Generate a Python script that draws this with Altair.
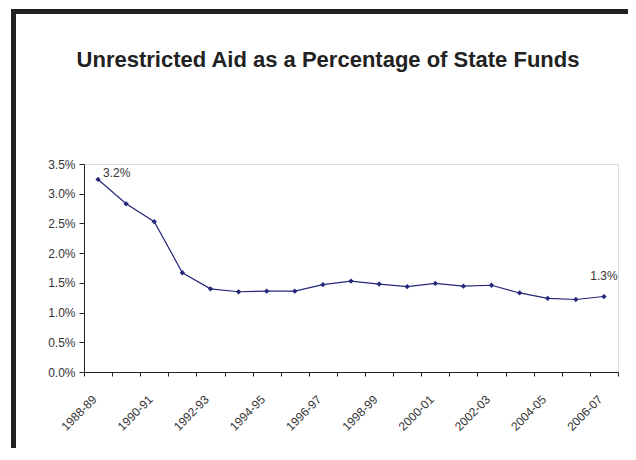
import altair as alt
import pandas as pd

years = ["1988-89", "1989-90", "1990-91", "1991-92", "1992-93", "1993-94",
         "1994-95", "1995-96", "1996-97", "1997-98", "1998-99", "1999-00",
         "2000-01", "2001-02", "2002-03", "2003-04", "2004-05", "2005-06",
         "2006-07"]
share = [0.0324, 0.0283, 0.0253, 0.0167, 0.0140, 0.0135, 0.0136, 0.0136,
         0.0147, 0.0153, 0.0148, 0.01435, 0.0149, 0.01445, 0.0146, 0.0133,
         0.0124, 0.0122, 0.0127]
point_labels = ["3.2%"] + [""] * 17 + ["1.3%"]

df = pd.DataFrame({"year": years, "share": share, "label": point_labels})

NAVY = "#25277a"
FONT = "Liberation Sans"

x_enc = alt.X(
    "year:N", sort=years, bandPosition=0.5,
    scale=alt.Scale(type="band", paddingInner=0, paddingOuter=0),
    axis=alt.Axis(
        title=None, labelAngle=-45, labelAlign="right", labelBaseline="middle",
        tickBand="extent", tickSize=4, labelPadding=21, labelOffset=-4,
        labelFontSize=12, labelFont=FONT, labelColor="#333333",
        domainColor="#222222", tickColor="#222222", grid=False,
        labelExpr="toNumber(substring(datum.value, 0, 4)) % 2 == 0 ? datum.label : ''",
    ),
)
y_enc = alt.Y(
    "share:Q",
    scale=alt.Scale(domain=[0, 0.035], nice=False),
    axis=alt.Axis(
        title=None, format=".1%", values=[0, 0.005, 0.01, 0.015, 0.02, 0.025, 0.03, 0.035],
        tickSize=5, labelPadding=4, labelFontSize=12, labelFont=FONT,
        labelColor="#333333", domainColor="#222222", tickColor="#222222", grid=False,
    ),
)

base = alt.Chart(df).encode(x=x_enc, y=y_enc)

line = base.mark_line(color=NAVY, strokeWidth=1.2)
pts = base.mark_point(shape="diamond", filled=True, size=28, color=NAVY, opacity=1)

first_lbl = base.transform_filter("datum.year == '1988-89'").mark_text(
    align="left", baseline="alphabetic", dx=5, dy=-2, fontSize=12, font=FONT, color="#333333"
).encode(text="label:N")
last_lbl = base.transform_filter("datum.year == '2006-07'").mark_text(
    align="center", baseline="alphabetic", dx=0, dy=-17, fontSize=12, font=FONT, color="#333333"
).encode(text="label:N")

frame_data = alt.Data(values=[{"k": 1}])
left_bar = alt.Chart(frame_data).mark_rule(color="#222222", strokeWidth=5).encode(
    x=alt.value(-70.5), y=alt.value(-155), y2=alt.value(290)
)
top_bar = alt.Chart(frame_data).mark_rule(color="#222222", strokeWidth=5).encode(
    x=alt.value(-73), x2=alt.value(560), y=alt.value(-152.5)
)

chart = alt.layer(left_bar, top_bar, line, pts, first_lbl, last_lbl).properties(
    width=534, height=208,
    autosize=alt.AutoSizeParams(type="none"),
    padding={"left": 76, "top": 156, "right": 10, "bottom": 76},
    title=alt.TitleParams(
        "Unrestricted Aid as a Percentage of State Funds",
        font=FONT, fontSize=22, fontWeight="bold", color="#222222",
        anchor="middle", baseline="alphabetic", offset=0, dy=82, dx=-23,
    ),
).configure_view(stroke=None).configure(background="white")

chart.save("out.html", embed_options={"renderer": "svg", "actions": False})
